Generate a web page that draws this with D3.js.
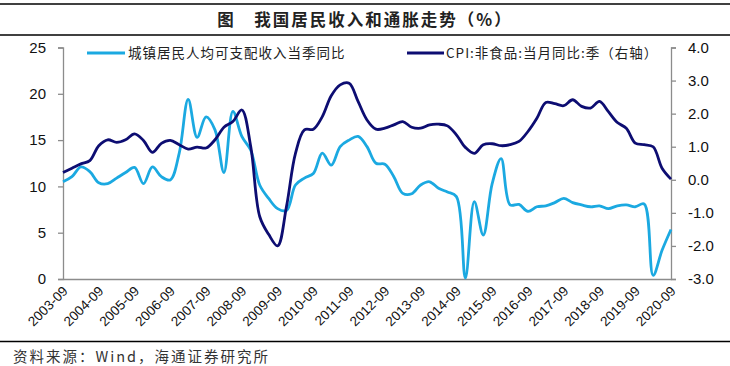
<!DOCTYPE html>
<html><head><meta charset="utf-8">
<script src="https://cdn.jsdelivr.net/npm/d3@7/dist/d3.min.js"></script>
<style>
body{margin:0;background:#fff;}
svg{display:block;}
</style></head>
<body>
<svg id="chart" width="730" height="366"></svg>
<script>
// ---- data ----
const startYear = 2003, startMonth = 9;
const incomeYoY = [10.5,11.05,12.1,11.6,10.4,10.3,10.9,11.5,12.05,10.3,12.1,11.05,10.7,13.6,19.4,15.3,17.5,16.1,11.5,18.1,15.4,13.9,10.15,8.7,
  7.6,7.4,10.15,10.9,11.4,13.6,12.3,14.3,15.0,15.4,14.3,12.5,12.4,11.05,9.25,9.2,10.15,10.5,9.8,9.4,8.9,0.1,
  8.35,4.75,10.3,13.0,8.0,8.05,7.3,7.8,7.9,8.25,8.7,8.25,8.0,7.8,7.9,7.6,7.9,8.0,7.8,8.1,0.4,3.1,5.35];
const cpiNonFood = [0.22,0.35,0.48,0.58,1.03,1.21,1.13,1.21,1.39,1.19,0.83,1.1,1.19,1.06,0.93,0.99,0.96,1.21,1.59,1.76,2.11,1.0,-1.11,-1.65,
  -2.0,-0.8,0.8,1.51,1.53,1.91,2.54,2.87,2.92,2.37,1.81,1.53,1.56,1.66,1.76,1.59,1.56,1.66,1.68,1.63,1.36,0.98,
  0.8,1.06,1.09,1.03,1.06,1.16,1.46,1.86,2.34,2.30,2.24,2.42,2.22,2.17,2.37,2.06,1.73,1.56,1.11,1.06,1.0,0.35,0.02];
const quarters = incomeYoY.map((_, i) => {
  const m = startMonth - 1 + i * 3;
  const y = startYear + Math.floor(m / 12);
  const mm = (m % 12) + 1;
  return y + "-" + String(mm).padStart(2, "0");
});
const xTickLabels = quarters.filter(q => q.endsWith("-09"));
const leftTicks = [0, 5, 10, 15, 20, 25];
const rightTicks = [-3, -2, -1, 0, 1, 2, 3, 4];
const seriesNames = ["城镇居民人均可支配收入当季同比", "CPI:非食品:当月同比:季（右轴）"];
const titleText = "图　我国居民收入和通胀走势（%）";
const sourceText = "资料来源：Wind，海通证券研究所";

// ---- layout ----
const svg = d3.select("#chart");
const L = 63, R = 671, T = 47.5, B = 279;
const colLight = "#1BA9E1", colDark = "#0D0D72", axisCol = "#8c8c8c";
const fontLat = "Arial, 'Liberation Sans', sans-serif";
const fontCJK = "'Noto Sans CJK SC', sans-serif";

const x = d3.scalePoint().domain(quarters).range([L, R]);
const yL = d3.scaleLinear().domain([0, 25]).range([B, T]);
const yR = d3.scaleLinear().domain([-3, 4]).range([B, T]);

// title & rules
svg.append("line").attr("x1", 0).attr("x2", 730).attr("y1", 4).attr("y2", 4).attr("stroke", "#000").attr("stroke-width", 1.5);
svg.append("line").attr("x1", 0).attr("x2", 730).attr("y1", 35).attr("y2", 35).attr("stroke", "#000").attr("stroke-width", 1.5);
svg.append("text").attr("x", 365).attr("y", 26).attr("text-anchor", "middle")
  .attr("font-family", fontCJK).attr("font-size", 16.5).attr("font-weight", "bold").attr("fill", "#222")
  .attr("letter-spacing", 2).text(titleText);
svg.append("line").attr("x1", 0).attr("x2", 730).attr("y1", 341.5).attr("y2", 341.5).attr("stroke", "#000").attr("stroke-width", 1.5);
svg.append("text").attr("x", 13).attr("y", 362)
  .attr("font-family", fontCJK).attr("font-size", 14.5).attr("fill", "#333").attr("letter-spacing", 2).text(sourceText);

// axes
const gl = svg.append("g").attr("transform", `translate(${L},0)`)
  .call(d3.axisLeft(yL).tickValues(leftTicks).tickSize(5).tickPadding(12).tickFormat(d3.format("d")));
const gr = svg.append("g").attr("transform", `translate(${R},0)`)
  .call(d3.axisRight(yR).tickValues(rightTicks).tickSize(5).tickPadding(12).tickFormat(d3.format(".1f")));
const gb = svg.append("g").attr("transform", `translate(0,${B})`)
  .call(d3.axisBottom(x).tickValues(xTickLabels).tickSize(0).tickSizeOuter(0));
[gl, gr, gb].forEach(g => {
  g.select(".domain").attr("stroke", axisCol).attr("stroke-width", 1.3);
  g.selectAll(".tick line").attr("stroke", axisCol).attr("stroke-width", 1.3);
  g.selectAll("text").attr("font-family", fontLat).attr("font-size", 15).attr("fill", "#111");
});
gr.selectAll("text").text(d => d.toFixed(1));
gb.selectAll("text").attr("font-size", 13.5).attr("text-anchor", "end")
  .attr("dy", 0).attr("y", 0)
  .attr("transform", "translate(5,13) rotate(-45)");

// lines
const curve = d3.curveCatmullRom.alpha(0.5);
const lineL = d3.line().x((d, i) => x(quarters[i])).y(d => yL(d)).curve(curve);
const lineR = d3.line().x((d, i) => x(quarters[i])).y(d => yR(d)).curve(curve);
svg.append("path").datum(incomeYoY).attr("d", lineL).attr("fill", "none").attr("stroke", colLight).attr("stroke-width", 2.8).attr("stroke-linejoin", "round");
svg.append("path").datum(cpiNonFood).attr("d", lineR).attr("fill", "none").attr("stroke", colDark).attr("stroke-width", 2.8).attr("stroke-linejoin", "round");

// legend
const legend = [
  {name: seriesNames[0], color: colLight, x1: 87, x2: 125, tx: 128},
  {name: seriesNames[1], color: colDark, x1: 407, x2: 444, tx: 446}
];
legend.forEach(l => {
  svg.append("line").attr("x1", l.x1).attr("x2", l.x2).attr("y1", 53).attr("y2", 53).attr("stroke", l.color).attr("stroke-width", 3);
  svg.append("text").attr("x", l.tx).attr("y", 58).attr("font-family", fontCJK).attr("font-size", 13.5)
    .attr("letter-spacing", 1).attr("fill", "#222").text(l.name);
});
</script>
</body></html>
